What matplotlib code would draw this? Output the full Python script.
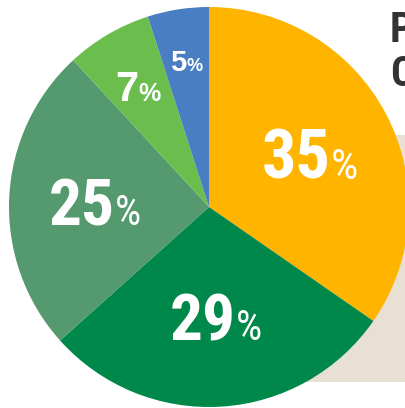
import matplotlib
matplotlib.use("Agg")
import matplotlib.pyplot as plt
import numpy as np
from matplotlib.patches import Rectangle

# Data
categories = ["A", "B", "C", "D", "E"]
values = [35, 29, 25, 7, 5]
labels = ["35", "29", "25", "7", "5"]
colors = ["#FFB500", "#00884A", "#55996F", "#6BBE4E", "#4A7EC2"]
title_lines = ["P", "C"]

# Layout
W, H = 406, 408
cx_px, cy_px, R_px = 209, 207, 200
fig = plt.figure(figsize=(W / 100, H / 100), dpi=100)
ax = fig.add_axes([0, 0, 1, 1])

wedges, _ = ax.pie(values, colors=colors, startangle=90, counterclock=False,
                   radius=1.0, wedgeprops=dict(linewidth=0), center=(0, 0))
for w in wedges:
    w.set_zorder(2)

ax.set_aspect("auto")
ax.set_xlim(-cx_px / R_px, (W - cx_px) / R_px)
ax.set_ylim((cy_px - H) / R_px, cy_px / R_px)
ax.axis("off")

# beige background rectangle
ax.add_patch(Rectangle((0.0, (cy_px - 382) / R_px), 2.0, (382 - 135) / R_px,
                       facecolor="#E8E0D5", edgecolor="none", zorder=0))

cond = "Roboto Condensed"
# (radius fraction, digit size pt, pct size pt, family, digit weight, pct weight)
styles = [
    (0.57, 49, 31, cond, "bold", "normal"),
    (0.55, 47, 30, cond, "bold", "normal"),
    (0.57, 47, 30, cond, "bold", "normal"),
    (0.70, 30, 18, "Liberation Sans", "bold", "bold"),
    (0.74, 21, 13, "Liberation Sans", "bold", "bold"),
]

fig.canvas.draw()
renderer = fig.canvas.get_renderer()
for w, lab, st in zip(wedges, labels, styles):
    r, ds, ps, fam, dw_, pw_ = st
    ang = np.deg2rad((w.theta1 + w.theta2) / 2)
    x, y = r * np.cos(ang), r * np.sin(ang)
    t1 = ax.annotate(lab, (x, y), xytext=(0, 0), textcoords="offset pixels",
                     ha="right", va="baseline", color="white",
                     fontsize=ds, fontfamily=fam, fontweight=dw_, zorder=5)
    t2 = ax.annotate("%", (x, y), xytext=(0, 0), textcoords="offset pixels",
                     ha="left", va="baseline", color="white",
                     fontsize=ps, fontfamily=fam, fontweight=pw_, zorder=5)
    dwid = t1.get_window_extent(renderer).width
    pwid = t2.get_window_extent(renderer).width
    jx = (dwid - pwid) / 2
    hcap = 0.72 * ds * 100 / 72
    t1.set_position((jx, -hcap / 2))
    t2.set_position((jx, -hcap / 2))

# cut-off title text at top right
for i, s in enumerate(title_lines):
    fig.text(390 / W, 1 - (42 + 44 * i) / H, s, fontsize=30, fontfamily=cond,
             fontweight="bold", color="#333333", ha="left", va="baseline")

fig.savefig("out.png", dpi=100)
